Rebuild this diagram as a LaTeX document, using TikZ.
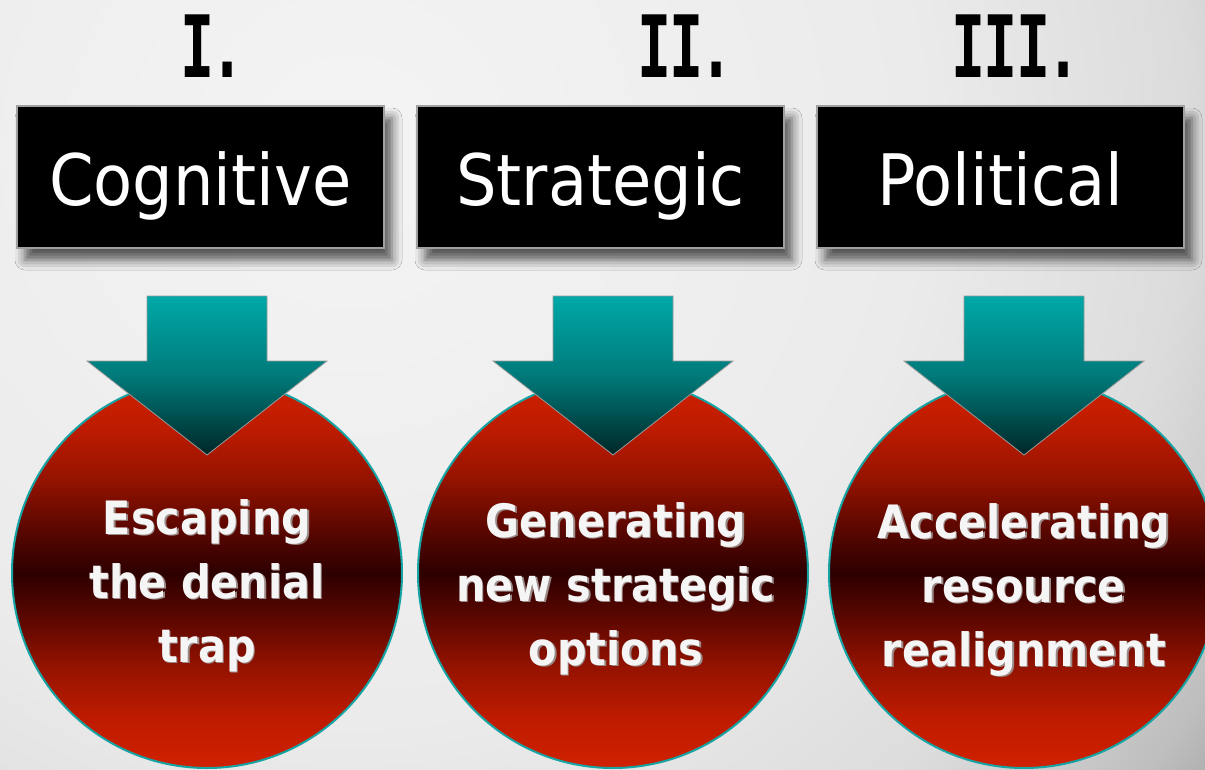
\documentclass[tikz,border=0pt]{standalone}
\usepackage{fontspec}
\usetikzlibrary{shadows.blur}
\newfontfamily\numfont{DejaVu Sans Mono}[FakeStretch=0.66]
\newfontfamily\boxfont{DejaVu Sans Condensed}

\definecolor{bg0}{HTML}{F4F4F4}
\definecolor{bg1}{HTML}{EBEBEB}
\definecolor{bg2}{HTML}{DCDCDC}
\definecolor{bg3}{HTML}{BEBEBE}
\definecolor{bg4}{HTML}{A4A4A4}
\definecolor{boxedge}{HTML}{A0A0A0}
\definecolor{tealtop}{HTML}{00A8A8}
\definecolor{tealmid}{HTML}{007A7A}
\definecolor{tealbot}{HTML}{002626}
\definecolor{arrowedge}{HTML}{9A9A9A}
\definecolor{ringteal}{HTML}{15A3A3}
\definecolor{captionshade}{HTML}{9A8A88}
% red ramp of the discs, rim to core
\definecolor{red0}{RGB}{208,33,0}
\definecolor{red1}{RGB}{190,27,0}
\definecolor{red2}{RGB}{150,19,0}
\definecolor{red3}{RGB}{92,7,0}
\definecolor{red4}{RGB}{45,0,0}

% text with a soft offset copy behind it (the copy takes no width)
\newcommand{\txtshadow}[3]{%
  \makebox[0pt][l]{\kern#1\raisebox{-#1}{\color{#2}#3}}#3}

% soft backdrop: light toward the upper left, greying toward the lower right
\pgfdeclareradialshading{backdrop}{\pgfpointorigin}{%
  color(0bp)=(bg0); color(13bp)=(bg1); color(19bp)=(bg2);
  color(23bp)=(bg3); color(25bp)=(bg4); color(50bp)=(bg4)}

% disc fill: bright red at top and bottom, nearly black across the middle
\pgfdeclareverticalshading{discramp}{100bp}{%
  color(0bp)=(red0); color(25bp)=(red0); color(31.4bp)=(red1);
  color(37.8bp)=(red2); color(44.2bp)=(red3); color(50bp)=(red4);
  color(55.8bp)=(red3); color(62.2bp)=(red2); color(68.6bp)=(red1);
  color(75bp)=(red0); color(100bp)=(red0)}

\begin{document}
\begin{tikzpicture}[x=1pt,y=-1pt,
  labelbox/.style={draw=boxedge, line width=1.2pt, fill=black,
    minimum width=367pt, minimum height=142pt, inner sep=0pt,
    text=white, font=\boxfont\fontsize{71}{71}\selectfont,
    text height=56pt, text depth=0pt,
    blur shadow={shadow xshift=8pt, shadow yshift=-12pt,
      shadow blur radius=10pt, shadow opacity=65}},
  numeral/.style={font=\numfont\bfseries\fontsize{86}{86}\selectfont,
    anchor=base west, inner sep=0pt, text=black},
  disc/.style={circle, minimum size=390pt, inner sep=0pt,
    draw=ringteal, line width=2pt, shading=discramp},
  disctext/.style={font=\boxfont\bfseries\fontsize{46}{64}\selectfont,
    align=center, anchor=base, inner sep=0pt, text=white!96!black},
  downarrow/.style={draw=arrowedge, line width=0.8pt,
    top color=tealtop, bottom color=tealbot, middle color=tealmid}]

\useasboundingbox (0,0) rectangle (1205,769);

% backdrop
\begin{scope}
  \clip (0,0) rectangle (1205,769);
  \fill[bg4] (0,0) rectangle (1205,769);
  \shade[shading=backdrop] (350,150) circle (1100pt);
\end{scope}

% category boxes
\node[labelbox] (b1) at (200.5,177) {Cognitive};
\node[labelbox] (b2) at (600.5,177) {Strategic};
\node[labelbox] (b3) at (1000.5,177) {Political};

% roman numerals
\node[numeral] (n1) at (180.5,77) {I\kern-4pt.};
\node[numeral] (n2) at (637,77) {I\kern-2pt I\kern-4pt.};
\node[numeral] (n3) at (951.5,77) {I\kern-2pt I\kern-2pt I\kern-4pt.};

% outcome discs
\node[disc] (c1) at (207,573) {};
\node[disc] (c2) at (613,573) {};
\node[disc] (c3) at (1024,573) {};

% block arrows from each box into its disc
\foreach \c in {c1,c2,c3}{
  \draw[downarrow, shift={(\c.center)}]
    (-60,-277) -- (60,-277) -- (60,-212) -- (120,-212) -- (0,-118)
    -- (-120,-212) -- (-60,-212) -- cycle;
}

% disc captions (anchored on the baseline of the last line)
\node[disctext] (t1) at (207,662)
  {\txtshadow{1.5pt}{captionshade}{Escaping}\\
   \txtshadow{1.5pt}{captionshade}{the denial}\\
   \txtshadow{1.5pt}{captionshade}{trap}};
\node[disctext] (t2) at (616,665)
  {\txtshadow{1.5pt}{captionshade}{Generating}\\
   \txtshadow{1.5pt}{captionshade}{new strategic}\\
   \txtshadow{1.5pt}{captionshade}{options}};
\node[disctext] (t3) at (1024,666)
  {\txtshadow{1.5pt}{captionshade}{Accelerating}\\
   \txtshadow{1.5pt}{captionshade}{resource}\\
   \txtshadow{1.5pt}{captionshade}{realignment}};

\end{tikzpicture}
\end{document}
